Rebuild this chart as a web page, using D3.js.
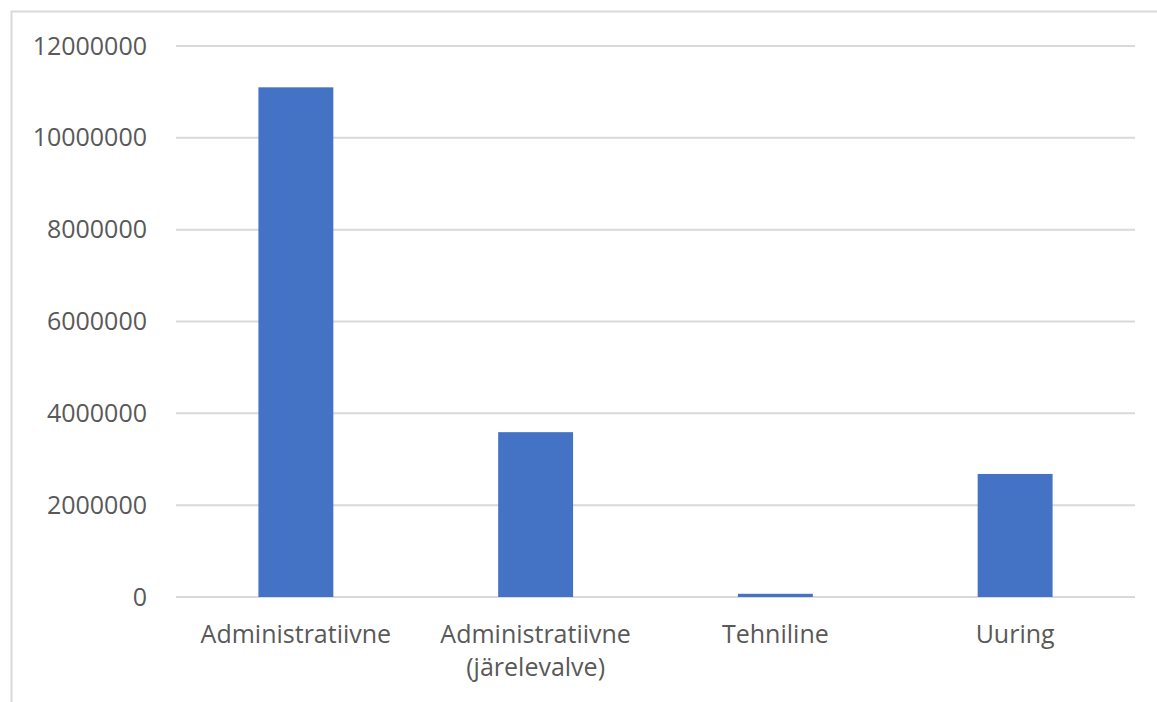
<!DOCTYPE html>
<html>
<head>
<meta charset="utf-8">
<script src="https://cdn.jsdelivr.net/npm/d3@7"></script>
<style>
  body { margin: 0; background: #fff; }
  text { font-family: "Open Sans", sans-serif; fill: #595959; }
</style>
</head>
<body>
<div id="chart"></div>
<script>
// chart data
var categories = ["Administratiivne", "Administratiivne\n(järelevalve)", "Tehniline", "Uuring"];
var values = [11100000, 3590000, 70000, 2680000];
var yTicks = [0, 2000000, 4000000, 6000000, 8000000, 10000000, 12000000];

var svgWidth = 1157;
var svgHeight = 702;
var margin = { top: 46, right: 22, bottom: 105, left: 176 };
var chartWidth = svgWidth - margin.left - margin.right;
var chartHeight = svgHeight - margin.top - margin.bottom;

var svg = d3.select("#chart")
  .append("svg")
  .attr("width", svgWidth)
  .attr("height", svgHeight);

// outer frame (runs off the right and bottom edge)
svg.append("rect")
  .attr("x", 11.5)
  .attr("y", 11.5)
  .attr("width", svgWidth + 20)
  .attr("height", svgHeight + 20)
  .attr("fill", "none")
  .attr("stroke", "#d9d9d9")
  .attr("stroke-width", 2);

var chartGroup = svg.append("g")
  .attr("transform", `translate(${margin.left}, ${margin.top})`);

var xScale = d3.scaleBand()
  .domain(categories)
  .range([0, chartWidth])
  .paddingInner(0.6875)
  .paddingOuter(0.34375);

var yScale = d3.scaleLinear()
  .domain([0, 12000000])
  .range([chartHeight, 0]);

// gridlines
chartGroup.append("g")
  .selectAll("line")
  .data(yTicks)
  .enter()
  .append("line")
  .attr("x1", 0)
  .attr("x2", chartWidth)
  .attr("y1", d => yScale(d))
  .attr("y2", d => yScale(d))
  .attr("stroke", "#d9d9d9")
  .attr("stroke-width", 2);

// y axis labels
var yAxis = d3.axisLeft(yScale).tickValues(yTicks).tickFormat(d3.format("d")).tickSize(0).tickPadding(29);
var yAxisG = chartGroup.append("g").call(yAxis);
yAxisG.select(".domain").remove();
yAxisG.selectAll("text")
  .style("font-size", "25px")
  .attr("fill", "#595959");

// bars
chartGroup.selectAll("rect.bar")
  .data(categories)
  .enter()
  .append("rect")
  .attr("class", "bar")
  .attr("x", d => xScale(d))
  .attr("width", xScale.bandwidth())
  .attr("y", (d, i) => yScale(values[i]))
  .attr("height", (d, i) => chartHeight - yScale(values[i]))
  .attr("fill", "#4472c4");

// x labels
var xLabels = chartGroup.append("g")
  .selectAll("text")
  .data(categories)
  .enter()
  .append("text")
  .attr("x", d => xScale(d) + xScale.bandwidth() / 2)
  .attr("y", chartHeight + 46)
  .attr("text-anchor", "middle")
  .style("font-size", "25px");

xLabels.each(function(d) {
  var lines = d.split("\n");
  var t = d3.select(this);
  lines.forEach((line, i) => {
    t.append("tspan")
      .attr("x", xScale(d) + xScale.bandwidth() / 2)
      .attr("dy", i === 0 ? 0 : 33)
      .text(line);
  });
});
</script>
</body>
</html>
